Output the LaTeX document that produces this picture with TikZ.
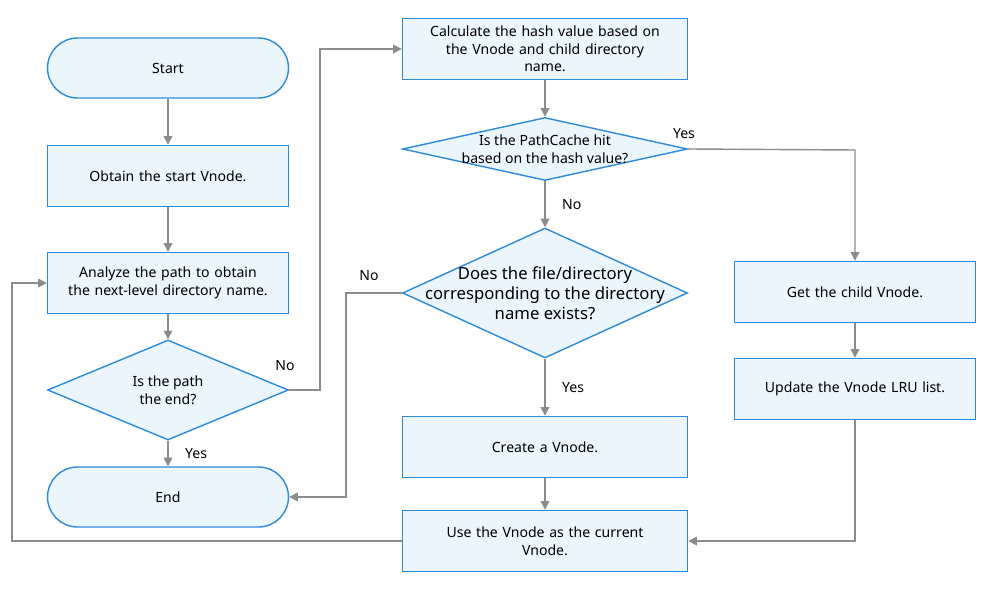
\documentclass[tikz,border=0pt]{standalone}
\usepackage{fontspec}
\setmainfont{Noto Sans}
\usetikzlibrary{shapes.geometric,arrows.meta}
\definecolor{bfill}{HTML}{EAF5FC}
\definecolor{bdraw}{HTML}{2E8AD6}
\definecolor{lgray}{HTML}{8C8C8C}
\begin{document}
\begin{tikzpicture}[x=0.02cm,y=-0.02cm,
 font=\fontsize{8}{10}\selectfont,
 box/.style={draw=bdraw,fill=bfill,line width=0.8pt,align=center,inner sep=0pt},
 rect/.style={box,minimum width=4.82cm,minimum height=1.22cm,text width=4.4cm},
 wrect/.style={box,minimum width=5.7cm,minimum height=1.22cm,text width=5.2cm},
 pill/.style={box,rounded corners=0.6cm,minimum width=4.82cm,minimum height=1.2cm},
 dia/.style={box,diamond,aspect=4.7,inner sep=0pt},
 arr/.style={draw=lgray,line width=0.8pt,-{Triangle[length=5pt,width=5pt]}},
 lab/.style={font=\fontsize{8}{10}\selectfont}]
\useasboundingbox (0,0) rectangle (1000,597);
\node[pill] (start) at (168,68) {Start};
\node[rect] (obt) at (168,176) {Obtain the start Vnode.};
\node[rect] (ana) at (168,283) {Analyze the path to obtain\\the next-level directory name.};
\node[box,diamond,minimum width=4.82cm,minimum height=1.2cm,text width=2cm] (d1) at (168,390) {};
\node[align=center] at (168,390) {Is the path\\the end?};
\node[pill] (end) at (168,497) {End};
\node[wrect] (calc) at (545,49) {Calculate the hash value based on\\the Vnode and child directory\\name.};
\node[box,diamond,minimum width=5.7cm,minimum height=1.26cm] (d2) at (545,149) {};
\node[align=center] at (545,149) {Is the PathCache hit\\based on the hash value?};
\node[box,diamond,minimum width=5.7cm,minimum height=2.6cm] (d3) at (545,293) {};
\node[align=center,font=\fontsize{9.5}{11.5}\selectfont] at (545,293) {Does the file/directory\\corresponding to the directory\\name exists?};
\node[wrect] (cre) at (545,447) {Create a Vnode.};
\node[wrect] (use) at (545,541) {Use the Vnode as the current\\Vnode.};
\node[rect] (get) at (855,292) {Get the child Vnode.};
\node[rect] (upd) at (855,389) {Update the Vnode LRU list.};
\draw[arr] (start) -- (obt);
\draw[arr] (obt) -- (ana);
\draw[arr] (ana) -- (d1);
\draw[arr] (d1) -- node[right,lab,xshift=6pt] {Yes} (end);
\draw[arr] (d1.east) -- (320,390) -- (320,49) -- (calc.west);
\node[lab] at (285,366) {No};
\draw[arr] (calc) -- (d2);
\draw[arr] (d2) -- node[right,lab,xshift=6pt] {No} (d3);
\draw[arr] (d2.east) -- (855,150) -- (get.north);
\node[lab] at (684,134) {Yes};
\draw[arr] (d3.west) -- (346,293) -- (346,497) -- (end.east);
\node[lab] at (369,276) {No};
\draw[arr] (d3) -- node[right,lab,xshift=6pt] {Yes} (cre);
\draw[arr] (cre) -- (use);
\draw[arr] (get) -- (upd);
\draw[arr] (upd.south) -- (855,541) -- (use.east);
\draw[arr] (use.west) -- (12,541) -- (12,283) -- (ana.west);
\end{tikzpicture}
\end{document}
